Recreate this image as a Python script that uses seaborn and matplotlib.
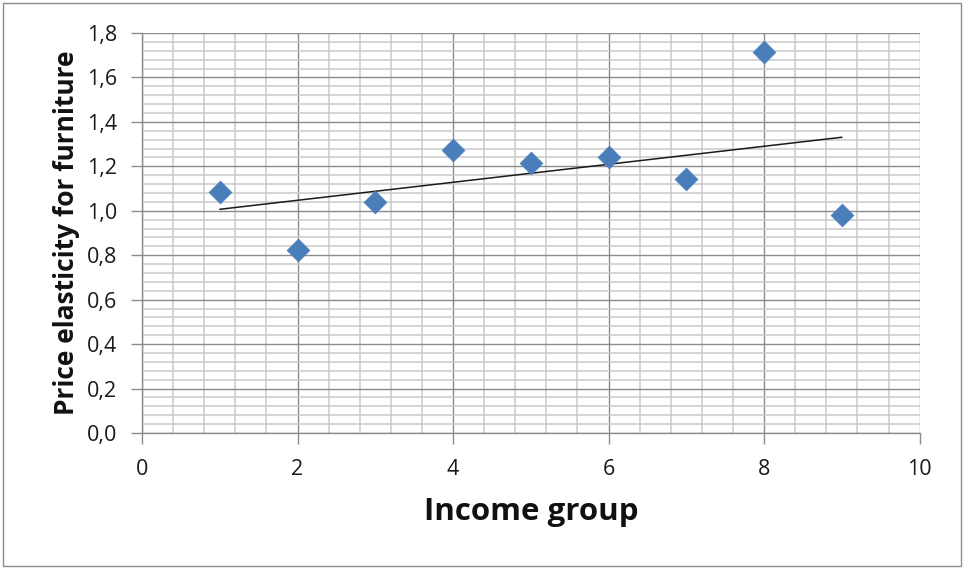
import numpy as np
import pandas as pd
import matplotlib
matplotlib.use("Agg")
import matplotlib.pyplot as plt
import seaborn as sns
from matplotlib.ticker import MultipleLocator, FuncFormatter
from matplotlib.patches import Rectangle

# Price elasticity for furniture by income group
income_group = [1, 2, 3, 4, 5, 6, 7, 8, 9]
elasticity = [1.085, 0.824, 1.040, 1.274, 1.215, 1.242, 1.143, 1.715, 0.981]

df = pd.DataFrame({"Income group": income_group, "Elasticity": elasticity})

sns.set_theme(style="white")
plt.rcParams["font.family"] = ["Open Sans", "DejaVu Sans"]

fig = plt.figure(figsize=(9.64, 5.69), dpi=100)
ax = fig.add_axes([0.1473, 0.239, 0.954 - 0.1473, 0.942 - 0.239])

sns.regplot(
    data=df, x="Income group", y="Elasticity", ax=ax, ci=None,
    marker="D",
    scatter_kws=dict(s=135, color="#4A7EBB", edgecolors="#4A7EBB",
                     linewidths=0.5, alpha=1, zorder=4),
    line_kws=dict(color="#1a1a1a", linewidth=1.1, zorder=3),
)

ax.set_xlim(0, 10)
ax.set_ylim(0, 1.8)
ax.xaxis.set_major_locator(MultipleLocator(2))
ax.xaxis.set_minor_locator(MultipleLocator(0.4))
ax.yaxis.set_major_locator(MultipleLocator(0.2))
ax.yaxis.set_minor_locator(MultipleLocator(0.04))

ax.grid(which="minor", color="#CACACA", linewidth=1.1, zorder=0)
ax.grid(which="major", color="#8C8C8C", linewidth=1.0, zorder=1)
ax.set_axisbelow(True)

ax.yaxis.set_major_formatter(FuncFormatter(lambda v, p: f"{v:.1f}".replace(".", ",")))
ax.xaxis.set_major_formatter(FuncFormatter(lambda v, p: f"{v:.0f}"))

ax.tick_params(axis="both", which="major", direction="out", length=8, width=1,
               color="#8C8C8C", labelsize=15.5, labelcolor="#1a1a1a", left=True, bottom=True)
ax.tick_params(axis="both", which="minor", length=0)
ax.tick_params(axis="x", pad=11)
ax.tick_params(axis="y", pad=10)

for side in ["left", "bottom"]:
    ax.spines[side].set_color("#8C8C8C")
    ax.spines[side].set_linewidth(1)
for side in ["top", "right"]:
    ax.spines[side].set_visible(False)

ax.set_xlabel("Income group", fontsize=22.5, fontweight="bold", color="#111111", labelpad=12)
ax.set_ylabel("Price elasticity for furniture", fontsize=19, fontweight="bold", color="#111111", labelpad=5)

# Outer chart frame
fig.patches.append(Rectangle((0.003, 0.005), 0.994, 0.99, transform=fig.transFigure,
                             fill=False, edgecolor="#8C8C8C", linewidth=1))

fig.savefig("out.png", dpi=100)
